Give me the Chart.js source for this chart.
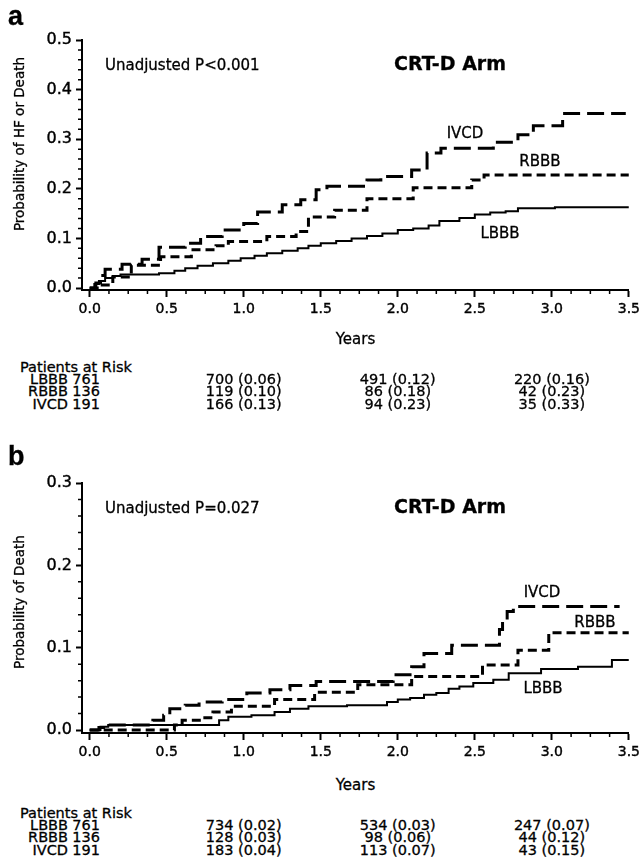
<!DOCTYPE html>
<html>
<head>
<meta charset="utf-8">
<script src="https://cdn.jsdelivr.net/npm/chart.js@4.4.1/dist/chart.umd.min.js"></script>
<style>
  body { margin: 0; background: #fff; }
  #page { position: relative; width: 644px; height: 868px; overflow: hidden;
          font-family: "DejaVu Sans", Verdana, sans-serif; color: #000; }
  .plot { position: absolute; left: 0; width: 644px; height: 330px; }
  .t { position: absolute; white-space: nowrap; line-height: 1; -webkit-text-stroke: 0.3px #000; }
  .mid { transform: translate(-50%, -50%); }
  .lft { transform: translateY(-50%); }
  .rgt { transform: translate(-100%, -50%); }
  .rot { transform: translate(-50%, -50%) rotate(-90deg); }
</style>
</head>
<body>
<div id="page">
  <div class="plot" style="top:0"><canvas id="chartA" width="644" height="330"></canvas></div>
  <div class="plot" style="top:440px"><canvas id="chartB" width="644" height="330"></canvas></div>
</div>
<script>
// time axis (years)
const xTickValues = [0, 0.5, 1, 1.5, 2, 2.5, 3, 3.5];
const xTickLabels = ['0.0', '0.5', '1.0', '1.5', '2.0', '2.5', '3.0', '3.5'];
const yTicksA = [0, 0.1, 0.2, 0.3, 0.4, 0.5];
const yTicksB = [0, 0.1, 0.2, 0.3];

// panel a: HF or death, [year, cumulative probability]
const hfLbbb = [[0,0],[0.03,0.008],[0.06,0.014],[0.1,0.02],[0.15,0.024],[0.2,0.027],[0.45,0.03],[0.55,0.035],
  [0.62,0.04],[0.7,0.045],[0.8,0.05],[0.9,0.055],[0.98,0.06],[1.07,0.065],[1.15,0.07],[1.25,0.075],[1.35,0.08],
  [1.42,0.085],[1.5,0.09],[1.6,0.095],[1.7,0.1],[1.8,0.105],[1.9,0.11],[2.0,0.117],[2.1,0.12],[2.2,0.126],
  [2.27,0.135],[2.4,0.141],[2.5,0.148],[2.6,0.152],[2.7,0.155],[2.78,0.161],[3.02,0.163],[3.5,0.163]];
const hfRbbb = [[0,0],[0.06,0.006],[0.15,0.022],[0.27,0.046],[0.46,0.063],[0.66,0.077],[0.82,0.085],[0.9,0.094],
  [1.15,0.104],[1.34,0.114],[1.42,0.143],[1.59,0.157],[1.8,0.18],[2.1,0.202],[2.48,0.218],[2.56,0.228],[3.5,0.228]];
const hfIvcd = [[0,0],[0.04,0.01],[0.07,0.025],[0.1,0.038],[0.21,0.048],[0.34,0.058],[0.45,0.082],[0.62,0.09],
  [0.72,0.104],[0.86,0.117],[1.0,0.13],[1.09,0.153],[1.25,0.168],[1.37,0.178],[1.47,0.198],[1.54,0.205],
  [1.8,0.218],[1.89,0.225],[2.09,0.238],[2.19,0.272],[2.28,0.282],[2.62,0.294],[2.78,0.309],[2.88,0.327],
  [3.07,0.352],[3.48,0.352]];

// panel b: death
const dLbbb = [[0,0],[0.07,0.004],[0.12,0.006],[0.84,0.012],[0.9,0.016],[1.05,0.018],[1.2,0.022],[1.3,0.026],
  [1.42,0.029],[1.67,0.03],[1.93,0.034],[2.0,0.037],[2.08,0.039],[2.17,0.043],[2.25,0.045],[2.33,0.05],
  [2.4,0.053],[2.49,0.057],[2.62,0.061],[2.72,0.069],[2.93,0.074],[3.17,0.077],[3.39,0.085],[3.5,0.085]];
const dRbbb = [[0,0],[0.55,0.006],[0.6,0.012],[0.73,0.015],[0.8,0.022],[0.92,0.029],[1.2,0.037],[1.46,0.046],
  [1.74,0.055],[2.09,0.065],[2.55,0.079],[2.78,0.097],[2.98,0.118],[3.5,0.118]];
const dIvcd = [[0,0],[0.06,0.003],[0.09,0.006],[0.41,0.012],[0.48,0.018],[0.52,0.026],[0.62,0.03],[0.71,0.034],
  [0.86,0.037],[1.02,0.045],[1.17,0.049],[1.3,0.054],[1.47,0.059],[1.97,0.067],[2.09,0.077],[2.17,0.093],
  [2.35,0.103],[2.66,0.122],[2.68,0.134],[2.71,0.144],[2.75,0.15],[3.44,0.15]];

// patients at risk table
const riskGroups = ['LBBB', 'RBBB', 'IVCD'];
const riskBaseline = [761, 136, 191];
const riskYears = [1, 2, 3];
const riskA = [['700 (0.06)', '491 (0.12)', '220 (0.16)'],
               ['119 (0.10)', '86 (0.18)', '42 (0.23)'],
               ['166 (0.13)', '94 (0.23)', '35 (0.33)']];
const riskB = [['734 (0.02)', '534 (0.03)', '247 (0.07)'],
               ['128 (0.03)', '98 (0.06)', '44 (0.12)'],
               ['183 (0.04)', '113 (0.07)', '43 (0.15)']];

const FONT = '"DejaVu Sans", Verdana, sans-serif';
Chart.defaults.font.family = FONT;
Chart.defaults.color = '#000';

const toXY = arr => arr.map(p => ({ x: p[0], y: p[1] }));

// short minor tick marks between the labelled ones
const minorTicks = {
    id: 'minorTicks',
    afterDraw(chart) {
        const ctx = chart.ctx;
        const xs = chart.scales.x, ys = chart.scales.y;
        const area = chart.chartArea;
        ctx.save();
        ctx.strokeStyle = '#000';
        ctx.lineWidth = 1.5;
        ctx.beginPath();
        for (let i = 1; i < 28; i++) {
            if (i % 4 === 0) continue;
            const px = xs.getPixelForValue(i * 0.125);
            ctx.moveTo(px, area.bottom);
            ctx.lineTo(px, area.bottom + 4);
        }
        const steps = Math.round(ys.max / 0.02);
        for (let i = 1; i < steps; i++) {
            if (i % 5 === 0) continue;
            const py = ys.getPixelForValue(i * 0.02);
            ctx.moveTo(area.left, py);
            ctx.lineTo(area.left - 4, py);
        }
        ctx.stroke();
        ctx.restore();
    }
};

function makeChart(id, series, yMin, yMax, yTicks, padTop, xHeight) {
    const ctx = document.getElementById(id).getContext('2d');
    return new Chart(ctx, {
        type: 'line',
        data: {
            datasets: [
                { label: 'LBBB', data: toXY(series[0]), borderColor: '#000', borderWidth: 2,
                  stepped: true, pointRadius: 0, fill: false },
                { label: 'RBBB', data: toXY(series[1]), borderColor: '#000', borderWidth: 3,
                  borderDash: [9, 5], stepped: true, pointRadius: 0, fill: false },
                { label: 'IVCD', data: toXY(series[2]), borderColor: '#000', borderWidth: 3,
                  borderDash: [17, 7], stepped: true, pointRadius: 0, fill: false }
            ]
        },
        options: {
            responsive: false,
            animation: false,
            devicePixelRatio: 1,
            layout: { padding: { top: padTop, right: 11, left: 0, bottom: 0 } },
            plugins: { legend: { display: false }, tooltip: { enabled: false } },
            scales: {
                x: {
                    type: 'linear',
                    min: -0.05,
                    max: 3.5,
                    afterBuildTicks: s => { s.ticks = xTickValues.map(v => ({ value: v })); },
                    afterFit: s => { s.height = xHeight; },
                    ticks: {
                        autoSkip: false,
                        maxRotation: 0,
                        padding: 4,
                        font: { size: 14 },
                        color: '#000',
                        textStrokeColor: '#000',
                        textStrokeWidth: 0.4,
                        callback: v => xTickLabels[xTickValues.indexOf(v)]
                    },
                    grid: { drawOnChartArea: false, drawTicks: true, tickLength: 7, tickWidth: 2, tickColor: '#000' },
                    border: { display: true, color: '#000', width: 2 }
                },
                y: {
                    type: 'linear',
                    min: yMin,
                    max: yMax,
                    afterBuildTicks: s => { s.ticks = yTicks.map(v => ({ value: v })); },
                    afterFit: s => { s.width = 82; },
                    ticks: {
                        padding: 4,
                        font: { size: 16 },
                        color: '#000',
                        textStrokeColor: '#000',
                        textStrokeWidth: 0.4,
                        callback: v => v.toFixed(1)
                    },
                    grid: { drawOnChartArea: false, drawTicks: true, tickLength: 6, tickWidth: 2, tickColor: '#000' },
                    border: { display: true, color: '#000', width: 2 }
                }
            }
        },
        plugins: [minorTicks]
    });
}

const chartA = makeChart('chartA', [hfLbbb, hfRbbb, hfIvcd], -0.004, 0.5, yTicksA, 40, 40);
const chartB = makeChart('chartB', [dLbbb, dRbbb, dIvcd], -0.0036, 0.3, yTicksB, 43, 37);

const page = document.getElementById('page');
function addText(txt, x, y, cls, style) {
    const d = document.createElement('div');
    d.className = 't ' + cls;
    d.textContent = txt;
    d.style.left = x + 'px';
    d.style.top = y + 'px';
    Object.assign(d.style, style || {});
    page.appendChild(d);
}

function annotate(chart, top, opts) {
    const xs = chart.scales.x;
    const tbl = { fontSize: '14.5px' };
    addText(opts.letter, 8, top + 16, 'lft', { fontSize: '27px', fontWeight: 'bold', fontFamily: '"Liberation Sans", Arial, sans-serif' });
    addText(opts.yTitle, 20, top + opts.yTitleY, 'rot', { fontSize: '13.5px' });
    addText(opts.pText, 105, top + opts.pY, 'lft', { fontSize: '15px' });
    addText('CRT-D Arm', 450, top + opts.pY - 2, 'mid', { fontSize: '19px', fontWeight: 'bold' });
    opts.curveLabels.forEach(l => addText(l[0], l[1], top + l[2], 'mid', { fontSize: '15px' }));
    const axisMid = (chart.chartArea.left + chart.chartArea.right) / 2;
    addText('Years', axisMid, top + opts.yearsY, 'mid', { fontSize: '15px' });
    const t0 = top + opts.yearsY + 28;
    addText('Patients at Risk', 20, t0, 'lft', tbl);
    riskGroups.forEach((g, i) => {
        const y = t0 + 12 + i * 12.4;
        addText(g, 68, y, 'rgt', tbl);
        addText(String(riskBaseline[i]), 100, y, 'rgt', tbl);
        riskYears.forEach((yr, j) => {
            addText(opts.risk[i][j], xs.getPixelForValue(yr), y, 'mid', tbl);
        });
    });
}

annotate(chartA, 0, {
    letter: 'a', yTitle: 'Probability of HF or Death', yTitleY: 144, pText: 'Unadjusted P<0.001', pY: 65,
    curveLabels: [['IVCD', 465, 133], ['RBBB', 540, 161], ['LBBB', 500, 233]],
    yearsY: 339, risk: riskA
});
annotate(chartB, 440, {
    letter: 'b', yTitle: 'Probability of Death', yTitleY: 162, pText: 'Unadjusted P=0.027', pY: 68,
    curveLabels: [['IVCD', 542, 152], ['RBBB', 595, 182], ['LBBB', 543, 248]],
    yearsY: 345, risk: riskB
});
</script>
</body>
</html>
